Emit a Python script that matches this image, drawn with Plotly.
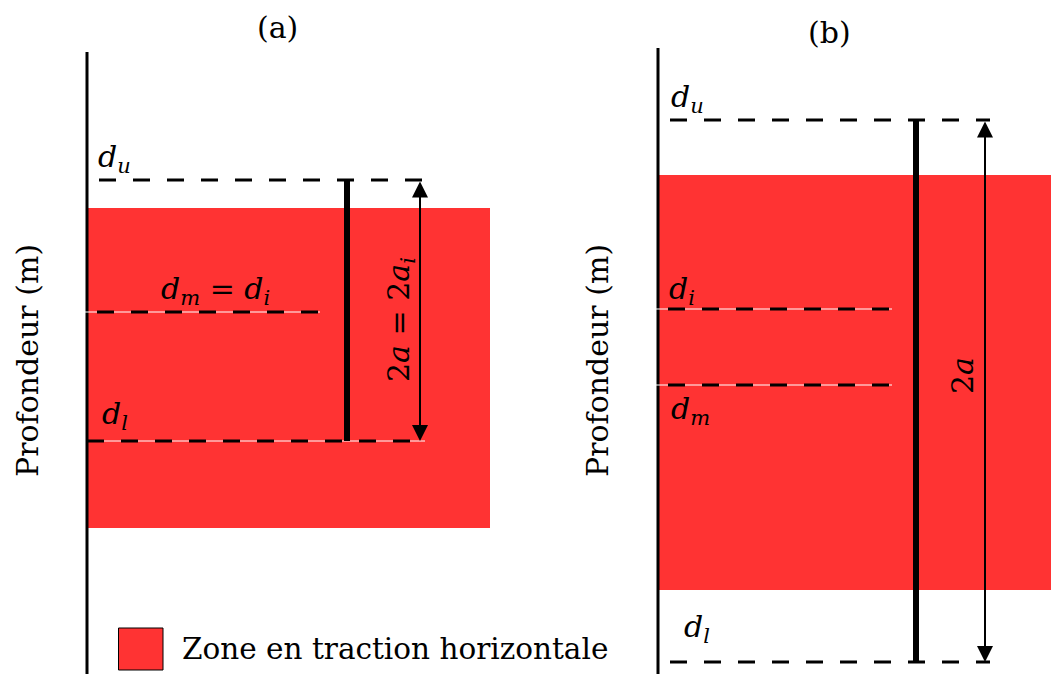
import plotly.graph_objects as go

# Depth values for each panel (same vertical depth scale for both)
panel_names = ["(a)", "(b)"]
depth_upper = [1.80, 1.20]        # d_u
depth_lower = [4.41, 6.62]        # d_l
depth_initial = [3.12, 3.09]      # d_i
depth_middle = [3.12, 3.85]       # d_m
zone_top = [2.08, 1.75]           # top of the horizontal tension zone
zone_bottom = [5.28, 5.90]        # bottom of the horizontal tension zone
legend_label = "Zone en traction horizontale"
axis_label = "Profondeur (m)"

# Layout of the two schematic panels (horizontal coordinates)
axis_x = [0.87, 6.58]
axis_top = [0.52, 0.48]
zone_right = [4.90, 10.51]
dash_right = [4.25, 9.90]
mid_right = [3.20, 8.92]
bar_x = [3.47, 9.16]
arrow_x = [4.20, 9.85]

RED = "#ff3333"
FONT = "DejaVu Serif"
Y_MAX = 6.74

fig = go.Figure()
shapes = []
annotations = []

for k in range(2):
    ax = axis_x[k]
    # tension zone
    shapes.append(dict(type="rect", x0=ax, x1=zone_right[k], y0=zone_top[k], y1=zone_bottom[k],
                       fillcolor=RED, line=dict(width=0), layer="below"))
    # depth axis
    shapes.append(dict(type="line", x0=ax, x1=ax, y0=axis_top[k], y1=Y_MAX,
                       line=dict(color="black", width=3)))
    # upper depth
    shapes.append(dict(type="line", x0=ax + 0.12, x1=dash_right[k], y0=depth_upper[k], y1=depth_upper[k],
                       line=dict(color="black", width=3, dash="17px,17px")))
    # lower depth (thin white line under the dashes where it crosses the zone)
    lower_start = ax + 0.12 if k == 1 else ax
    if k == 0:
        shapes.append(dict(type="line", x0=ax, x1=dash_right[k], y0=depth_lower[k], y1=depth_lower[k],
                           line=dict(color="white", width=1.2)))
    shapes.append(dict(type="line", x0=lower_start, x1=dash_right[k], y0=depth_lower[k], y1=depth_lower[k],
                       line=dict(color="black", width=3, dash="17px,17px")))
    # initial / middle depths
    mids = sorted(set([depth_initial[k], depth_middle[k]]))
    for d in mids:
        shapes.append(dict(type="line", x0=ax - 0.05, x1=mid_right[k], y0=d, y1=d,
                           line=dict(color="white", width=1.2)))
        shapes.append(dict(type="line", x0=ax + 0.10, x1=mid_right[k], y0=d, y1=d,
                           line=dict(color="black", width=3, dash="17px,17px")))
    # thick bar spanning d_u..d_l
    shapes.append(dict(type="line", x0=bar_x[k], x1=bar_x[k], y0=depth_upper[k], y1=depth_lower[k],
                       line=dict(color="black", width=6)))
    # double-headed arrow for 2a
    annotations.append(dict(x=arrow_x[k], y=depth_lower[k], ax=arrow_x[k], ay=depth_upper[k],
                            xref="x", yref="y", axref="x", ayref="y", text="", showarrow=True,
                            arrowhead=2, startarrowhead=2, arrowside="end+start",
                            arrowsize=1.6, startarrowsize=1.6, arrowwidth=2, arrowcolor="black"))
    # axis title
    annotations.append(dict(x=axis_x[k] - (0.60 if k == 0 else 0.61), y=3.61, xref="x", yref="y",
                            text=axis_label, textangle=-90, showarrow=False,
                            font=dict(family=FONT, size=30, color="black")))

# panel titles
annotations.append(dict(x=2.77, y=0.27, xref="x", yref="y", text=panel_names[0], showarrow=False,
                        font=dict(family=FONT, size=30, color="black")))
annotations.append(dict(x=8.29, y=0.32, xref="x", yref="y", text=panel_names[1], showarrow=False,
                        font=dict(family=FONT, size=30, color="black")))

def label(x, y, text, angle=0):
    annotations.append(dict(x=x, y=y, xref="x", yref="y", text=text, showarrow=False, textangle=angle,
                            font=dict(family=FONT, size=30, color="black")))

# panel (a) labels
label(1.14, 1.58, "<i>d<sub>u</sub></i>")
label(2.15, 2.90, "<i>d<sub>m</sub></i> = <i>d<sub>i</sub></i>")
label(1.15, 4.15, "<i>d<sub>l</sub></i>")
label(4.00, 3.20, "2<i>a</i> = 2<i>a<sub>i</sub></i>", angle=-90)
# panel (b) labels
label(6.87, 0.98, "<i>d<sub>u</sub></i>")
label(6.82, 2.90, "<i>d<sub>i</sub></i>")
label(6.90, 4.10, "<i>d<sub>m</sub></i>")
label(6.97, 6.28, "<i>d<sub>l</sub></i>")
label(9.62, 3.76, "2<i>a</i>", angle=-90)

# legend patch and text
shapes.append(dict(type="rect", x0=1.185, x1=1.63, y0=6.28, y1=6.70, fillcolor=RED,
                   line=dict(color="black", width=1)))
annotations.append(dict(x=1.80, y=6.49, xref="x", yref="y", text=legend_label, showarrow=False,
                        xanchor="left", font=dict(family=FONT, size=29.5, color="black")))

fig.update_layout(
    width=1051, height=674, autosize=False,
    margin=dict(l=0, r=0, t=0, b=0),
    paper_bgcolor="white", plot_bgcolor="white",
    shapes=shapes, annotations=annotations, showlegend=False,
    xaxis=dict(range=[0, 10.51], visible=False, fixedrange=True),
    yaxis=dict(range=[Y_MAX, 0], visible=False, fixedrange=True),
)

fig.write_html("out.html", config={"displayModeBar": False})
